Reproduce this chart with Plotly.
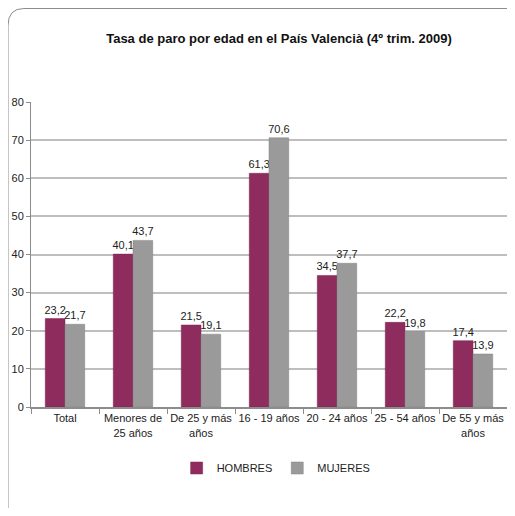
import plotly.graph_objects as go

categories = ["Total", "Menores de<br>25 años", "De 25 y más<br>años", "16 - 19 años",
              "20 - 24 años", "25 - 54 años", "De 55 y más<br>años"]
hombres = [23.2, 40.1, 21.5, 61.3, 34.5, 22.2, 17.4]
mujeres = [21.7, 43.7, 19.1, 70.6, 37.7, 19.8, 13.9]
y_ticks = [0, 10, 20, 30, 40, 50, 60, 70, 80]

FONT = "Liberation Sans Narrow, Arial Narrow, Liberation Sans, Arial, sans-serif"

def fmt(v):
    return f"{v:.1f}".replace(".", ",")

fig = go.Figure()
fig.add_trace(go.Bar(
    x=categories, y=hombres, name="HOMBRES",
    marker=dict(color="#8E2D5D", line=dict(color="#7A2450", width=0.5)),
    text=[fmt(v) for v in hombres], textposition="outside", constraintext="none",
    textfont=dict(family=FONT, size=11, color="#222222"), cliponaxis=False,
))
fig.add_trace(go.Bar(
    x=categories, y=mujeres, name="MUJERES",
    marker=dict(color="#9A9A9A", line=dict(color="#808080", width=0.5)),
    text=[fmt(v) for v in mujeres], textposition="outside", constraintext="none",
    textfont=dict(family=FONT, size=11, color="#222222"), cliponaxis=False,
))

# chart border (rounded top-left corner)
fig.add_shape(type="path", xref="paper", yref="paper",
              path="M -0.0483,-0.4 L -0.0483,1.25 Q -0.0483,1.3066 -0.015,1.3066 L 1.1,1.3066",
              line=dict(color="#8C8C8C", width=1))

fig.update_layout(
    width=499, height=500,
    margin=dict(l=23, r=0, t=94, b=101, autoexpand=False),
    paper_bgcolor="white", plot_bgcolor="white",
    barmode="group", bargap=0.42, bargroupgap=0,
    font=dict(family=FONT, size=11, color="#222222"),
    title=dict(text="<b>Tasa de paro por edad en el País Valencià (4º trim. 2009)</b>",
               x=0.543, xanchor="center", y=0.94, yanchor="middle",
               font=dict(family=FONT, size=13, color="#111111")),
    showlegend=True,
    legend=dict(orientation="h", x=0.515, xanchor="center", y=-0.2, yanchor="middle",
                font=dict(family=FONT, size=11, color="#222222"),
                traceorder="normal", tracegroupgap=0),
    xaxis=dict(showline=True, linecolor="#8C8C8C", linewidth=2, automargin=False,
               tickangle=0,
               ticks="outside", tickson="boundaries", ticklen=5, tickcolor="#8C8C8C",
               tickfont=dict(family=FONT, size=11, color="#222222"), showgrid=False),
    yaxis=dict(range=[0, 80], tickvals=y_ticks, showline=True, linecolor="#8C8C8C",
               linewidth=1, ticks="outside", ticklen=4, tickcolor="#8C8C8C",
               gridcolor="#BEBEBE", gridwidth=1.5, zeroline=False, automargin=False,
               tickfont=dict(family=FONT, size=11, color="#222222")),
)

fig.write_html("out.html")
